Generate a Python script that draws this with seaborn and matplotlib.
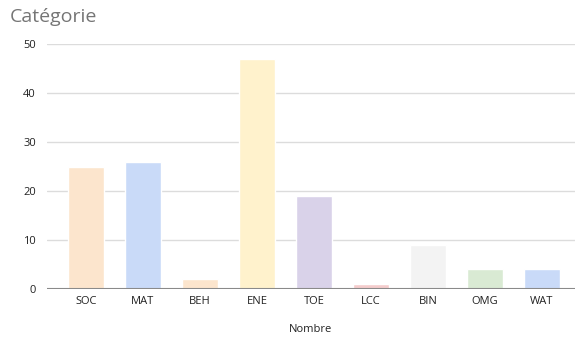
import pandas as pd
import numpy as np
import matplotlib.pyplot as plt
import seaborn as sns

# Data
categories = ['SOC', 'MAT', 'BEH', 'ENE', 'TOE', 'LCC', 'BIN', 'OMG', 'WAT']
counts = [25, 26, 2, 47, 19, 1, 9, 4, 4]
colors = ['#fce5cd', '#c9daf8', '#fce5cd', '#fff2cc', '#d9d2e9',
          '#f4cccc', '#f3f3f3', '#d9ead3', '#c9daf8']

df = pd.DataFrame({'cat': categories, 'n': counts})

sns.set_style('white')
plt.rcParams['font.family'] = ['Open Sans', 'DejaVu Sans']

fig = plt.figure(figsize=(5.75, 3.38), dpi=100)
ax = fig.add_axes([47 / 575, 49 / 338, 528 / 575, 245 / 338])

sns.barplot(data=df, x='cat', y='n', hue='cat', palette=colors,
            legend=False, width=0.63, saturation=1, ax=ax, zorder=2)

ax.set_ylim(0, 50)
ax.set_xlim(-0.684, 8.58)
ax.set_yticks([0, 10, 20, 30, 40, 50])
ax.yaxis.grid(True, color='#dcdcdc', linewidth=1, zorder=0)
ax.set_axisbelow(True)
ax.axhline(0, color='#8a8a8a', linewidth=1.5, zorder=3)
for s in ax.spines.values():
    s.set_visible(False)
ax.tick_params(axis='both', length=0, labelsize=8, colors='#222222')
ax.tick_params(axis='y', pad=8)
ax.tick_params(axis='x', pad=5)

ax.set_ylabel('')
ax.set_xlabel('Nombre', fontsize=8, color='#222222', labelpad=12)
fig.text(10 / 575, 1 - 17 / 338, 'Catégorie', fontsize=14, color='#757575',
         va='center', ha='left')

plt.savefig('out.png', dpi=100)
